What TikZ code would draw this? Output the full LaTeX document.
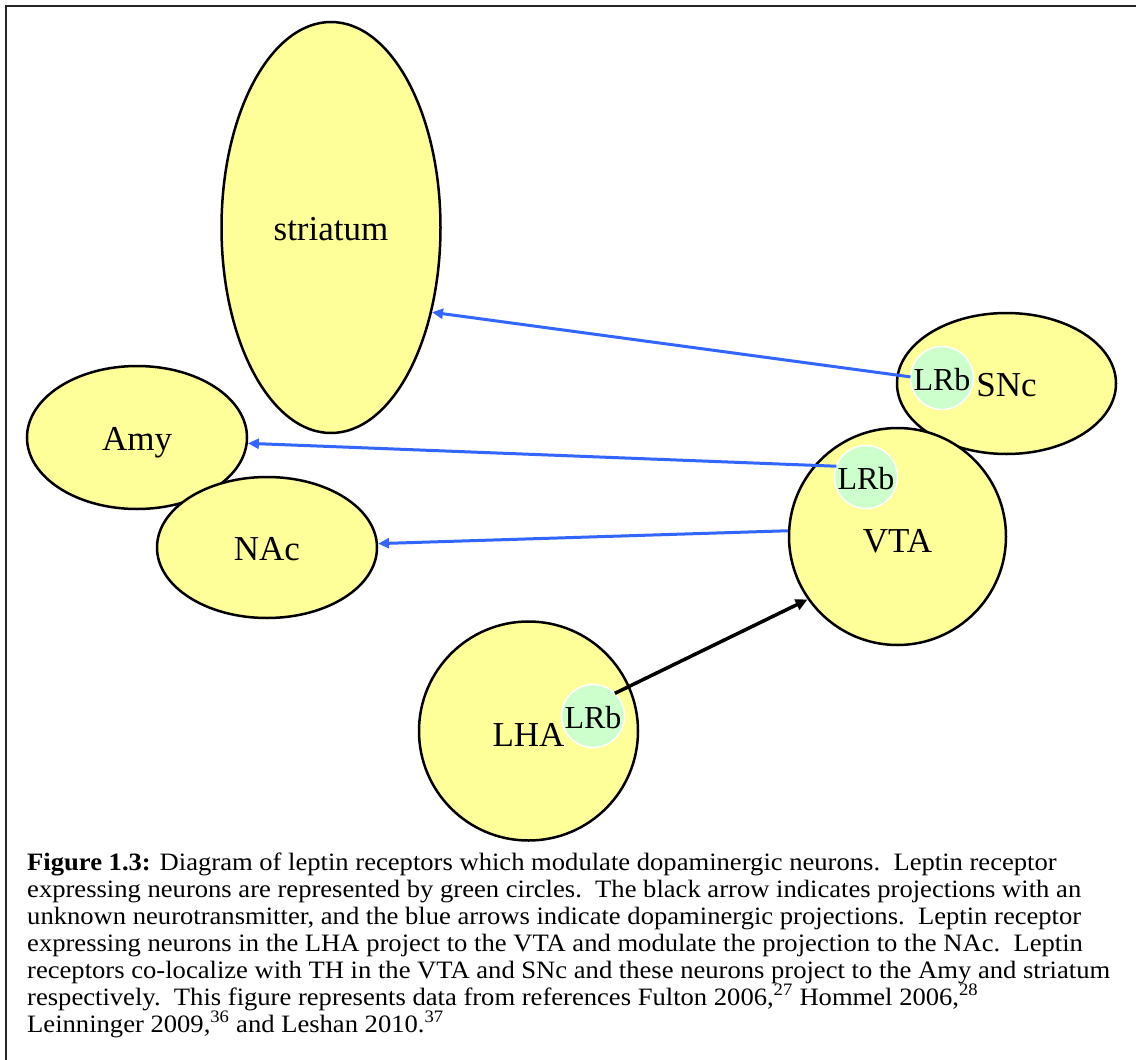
\documentclass[tikz,border=0pt]{standalone}
\usepackage{graphicx}
\usepackage{fontspec}
\setmainfont{Liberation Serif}
\usetikzlibrary{shapes.geometric,arrows.meta}
\definecolor{regionfill}{HTML}{FFFF99}
\definecolor{lrbfill}{HTML}{CCFFCC}
\definecolor{dablue}{HTML}{3366FF}
\newcommand\capline[1]{\scalebox{1.064}[1]{#1}}
\begin{document}
\begin{tikzpicture}[x=1pt,y=-1pt,
  region/.style={ellipse,draw=black,line width=2.5pt,fill=regionfill,inner sep=0pt,outer sep=1.25pt,text height=26pt,text depth=0pt,font=\fontsize{35}{40}\selectfont},
  lrb/.style={circle,draw=white,line width=1.5pt,fill=lrbfill,minimum size=63pt,inner sep=0pt,outer sep=0pt,text height=25pt,text depth=0pt,font=\fontsize{32}{36}\selectfont},
  daarrow/.style={draw=dablue,line width=3pt,-{Triangle[length=11pt,width=10pt]}},
  blackarrow/.style={draw=black,line width=3.5pt,-{Triangle[length=12pt,width=11pt]}},
  captext/.style={anchor=base west,inner sep=0pt,font=\fontsize{25}{27}\selectfont},
  frame/.style={draw=black!85,line width=2pt}]
\useasboundingbox (0,0) rectangle (1136,1060);
\fill[white] (0,0) rectangle (1136,1060);
% frame
\coordinate (fbl) at (6,1080);
\coordinate (ftl) at (6,6);
\coordinate (ftr) at (1150,6);
\draw[frame] (fbl) -- (ftl) -- (ftr);
% regions
\node[region,minimum width=219pt,minimum height=411pt] (striatum) at (331,227.5) {striatum};
\node[region,minimum width=220pt,minimum height=143pt] (amy) at (137,437.5) {Amy};
\node[region,minimum width=220pt,minimum height=141pt] (nac) at (267,547.5) {NAc};
\node[region,minimum width=219pt,minimum height=141pt] (snc) at (1006.5,383.5) {SNc};
\node[region,minimum width=217pt,minimum height=217pt] (vta) at (897.5,536.5) {\raisebox{-2.5pt}{VTA}};
\node[region,minimum width=219pt,minimum height=219pt] (lha) at (528.5,731) {\raisebox{-2pt}{LHA}};
% leptin receptor circles
\node[lrb] (snclrb) at (942,378) {LRb};
\node[lrb] (vtalrb) at (866,477) {LRb};
\node[lrb] (lhalrb) at (593,716) {LRb};
% projections
\draw[daarrow] (snclrb.178) -- (striatum.-40.3);
\draw[daarrow] (vtalrb.160) -- (amy.-3);
\draw[daarrow] (vta.177) -- (nac.2.3);
\draw[blackarrow] (lhalrb.46) -- (vta.-145.7);
% caption
\node[captext] (cap1) at (27,870) {\capline{\textbf{Figure 1.3:} Diagram of leptin receptors which modulate dopaminergic neurons.\ \ Leptin receptor}};
\node[captext] (cap2) at (27,897) {\capline{expressing neurons are represented by green circles.\ \ The black arrow indicates projections with an}};
\node[captext] (cap3) at (27,924) {\capline{unknown neurotransmitter, and the blue arrows indicate dopaminergic projections.\ \ Leptin receptor}};
\node[captext] (cap4) at (27,951) {\capline{expressing neurons in the LHA project to the VTA and modulate the projection to the NAc.\ \ Leptin}};
\node[captext] (cap5) at (27,978) {\capline{receptors co-localize with TH in the VTA and SNc and these neurons project to the Amy and striatum}};
\node[captext] (cap6) at (27,1005) {\capline{respectively.\ \ This figure represents data from references Fulton 2006,\textsuperscript{27} Hommel 2006,\textsuperscript{28}}};
\node[captext] (cap7) at (27,1032) {\capline{Leinninger 2009,\textsuperscript{36} and Leshan 2010.\textsuperscript{37}}};
\end{tikzpicture}
\end{document}
